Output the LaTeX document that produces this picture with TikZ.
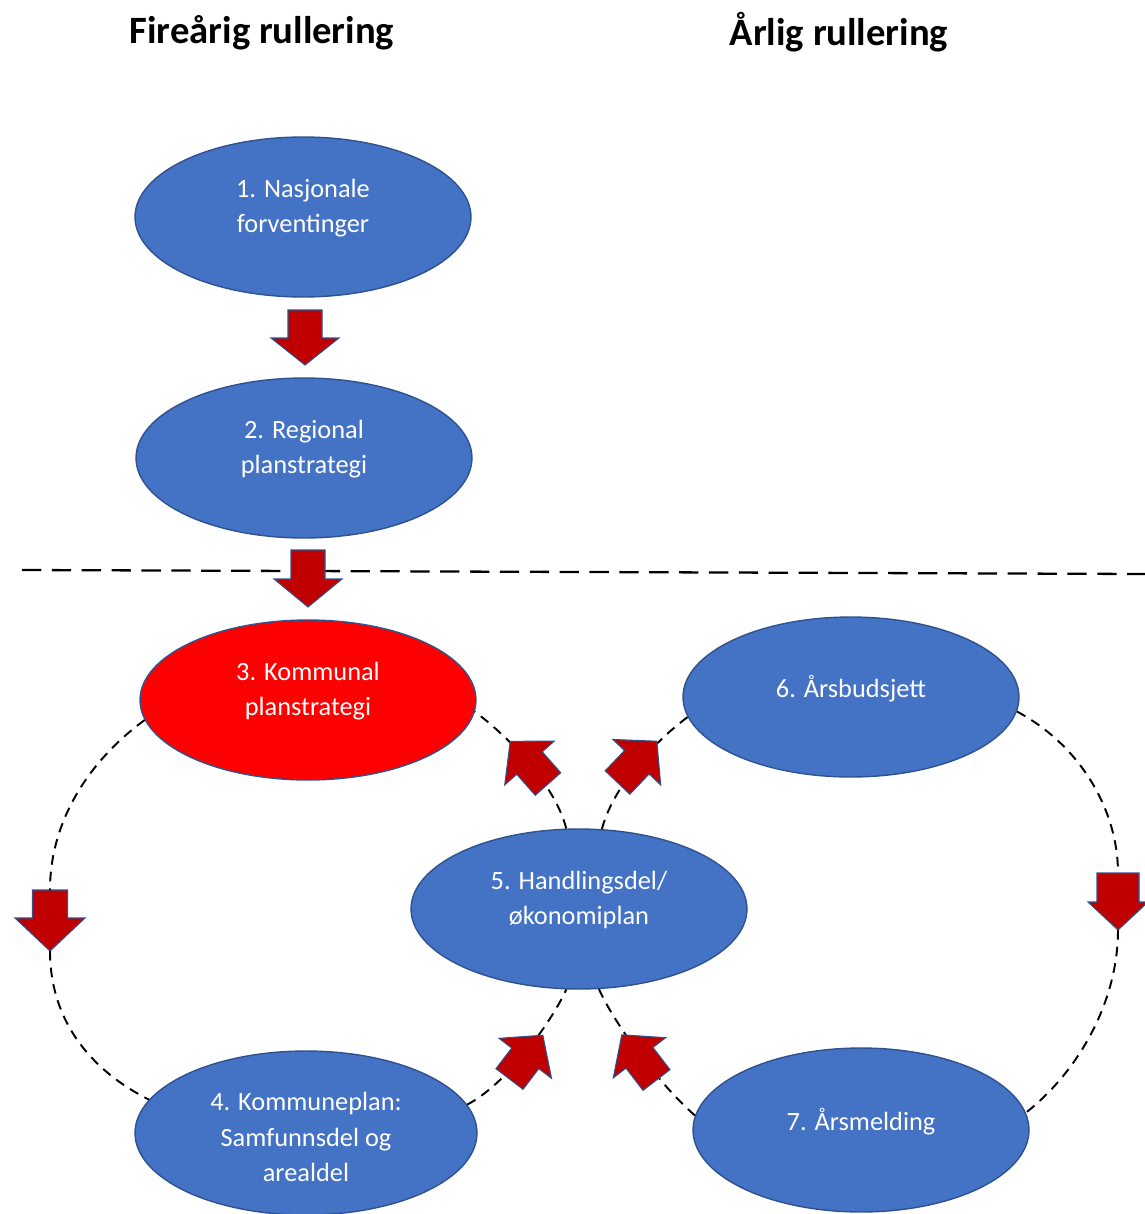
\documentclass[tikz,border=0pt]{standalone}
\usepackage{fontspec}
\setmainfont{Carlito}
\usetikzlibrary{shapes.geometric}
\definecolor{ellblue}{HTML}{4472C4}
\definecolor{ellline}{HTML}{2F528F}
\definecolor{arrred}{HTML}{C00000}
\definecolor{kred}{HTML}{FF0000}
\begin{document}
\begin{tikzpicture}[x=0.02cm,y=-0.02cm,
  oval/.style={ellipse, draw=ellline, line width=0.8pt, fill=ellblue,
    minimum width=6.72cm, minimum height=3.2cm, inner sep=0pt},
  lbl/.style={text=white, align=center, font=\fontsize{15}{20.2}\selectfont, yshift=5pt},
  header/.style={font=\fontsize{22}{26}\selectfont\bfseries, text=black},
  conn/.style={draw=black, line width=1.1pt, dash pattern=on 5.5pt off 4pt},
  divider/.style={draw=black, line width=1.3pt, dash pattern=on 11pt off 6pt},
  pics/barrow/.style n args={4}{code={
    \filldraw[fill=arrred, draw=ellline, line width=0.6pt, line join=miter]
      (0,-#4) -- (#1-#2,-#4) -- (#1-#2,-#3) -- (#1,0) -- (#1-#2,#3) -- (#1-#2,#4) -- (0,#4) -- cycle;
    \coordinate (-tail) at (0,0);
    \coordinate (-tip) at (#1,0);
  }}
]
\useasboundingbox (0,0) rectangle (1145,1214);

% headers
\node[header] (h1) at (262,33) {Fireårig rullering};
\node[header] (h2) at (839,32) {Årlig rullering};

% ellipses
\node[oval, label={[lbl]center:{1. Nasjonale\\forventinger}}] (n1) at (303,217) {};
\node[oval, label={[lbl]center:{2. Regional\\planstrategi}}] (n2) at (304,458) {};
\node[oval, fill=kred, label={[lbl]center:{3. Kommunal\\planstrategi}}] (n3) at (308,700) {};
\node[oval, label={[lbl]center:{6. Årsbudsjett}}] (n6) at (851,697) {};
\node[oval, label={[lbl]center:{5. Handlingsdel/\\økonomiplan}}] (n5) at (579,909) {};
\node[oval, minimum width=6.84cm, minimum height=3.28cm, label={[lbl,yshift=-7.5pt]center:{4. Kommuneplan:\\Samfunnsdel og\\arealdel}}] (n4) at (306,1133) {};
\node[oval, minimum height=3.28cm, label={[lbl]center:{7. Årsmelding}}] (n7) at (861,1130) {};

% side arrows
\pic[rotate=-90] (aL) at (50,890) {barrow={61}{33}{35}{17.5}};
\pic[rotate=-90] (aR) at (1118,873) {barrow={57}{28}{30}{21}};

% vertical arrow 1
\pic[rotate=-90] (a1) at (305,310) {barrow={55}{27}{34}{17}};

% divider
\coordinate (dl) at (22,570);
\coordinate (dr) at (1145,574);
\draw[divider] (dl) -- (dr);

\pic[rotate=-90] (a2) at (308,550) {barrow={57}{28}{34}{17}};

% dashed connectors
\draw[conn] (n3.187) .. controls (90,760) and (50,820) .. (aL-tail);
\draw[conn] (aL-tip) .. controls (50,1020) and (90,1070) .. (n4.168);
\draw[conn] (n6.-5) .. controls (1080,745) and (1118,810) .. (aR-tail);
\draw[conn] (aR-tip) .. controls (1118,1000) and (1080,1070) .. (n7.6);
\draw[conn] (n5.99) .. controls (555,785) and (510,738) .. (n3.-4);
\draw[conn] (n5.74) .. controls (612,790) and (650,745) .. (n6.187);
\draw[conn] (n4.10) .. controls (505,1085) and (550,1025) .. (n5.-99);
\draw[conn] (n7.175) .. controls (660,1085) and (615,1025) .. (n5.-76);

% diagonal arrows
\pic[rotate=131.5] (aA) at (548,784) {barrow={57}{29}{33}{17}};
\pic[rotate=46.4] (aB) at (617.5,782.5) {barrow={57}{29}{33}{17}};
\pic[rotate=52.7] (aC) at (509.5,1079) {barrow={55}{29}{33}{17}};
\pic[rotate=127.5] (aD) at (656.5,1080) {barrow={57}{29}{33}{17}};
\end{tikzpicture}
\end{document}
